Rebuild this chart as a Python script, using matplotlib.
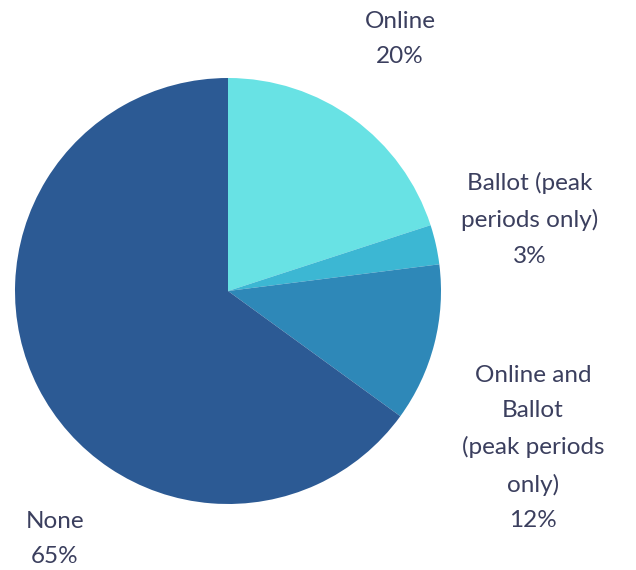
import matplotlib
matplotlib.use("Agg")
import matplotlib.pyplot as plt

# === DATA ===
labels = ["Online", "Ballot (peak\nperiods only)", "Online and\nBallot\n(peak periods\nonly)", "None"]
shares = [20, 3, 12, 65]
colors = ["#68e2e4", "#3cb7d3", "#2e88b8", "#2c5a94"]

# label centres in pixels (x, y from top)
label_pos = [(400, 39), (530, 219), (533, 448), (55, 539)]

W, H = 636, 570
fig = plt.figure(figsize=(W / 100, H / 100), dpi=100)
fig.patch.set_facecolor("white")

# pie: centre (228, 291), radius 213 px
cx, cy, r = 228, 291, 213
ax = fig.add_axes([(cx - r) / W, (H - cy - r) / H, 2 * r / W, 2 * r / H])
ax.pie(shares, colors=colors, startangle=90, counterclock=False,
       radius=1, wedgeprops=dict(linewidth=0))
ax.set_xlim(-1, 1)
ax.set_ylim(-1, 1)
ax.set_aspect("equal")
ax.axis("off")

for lab, val, (px, py) in zip(labels, shares, label_pos):
    fig.text(px / W, 1 - py / H, f"{lab}\n{val}%", ha="center", va="center",
             fontsize=17.5, family="Lato", color="#3b3f5e", linespacing=1.85)

fig.savefig("out.png", dpi=100, facecolor="white")
